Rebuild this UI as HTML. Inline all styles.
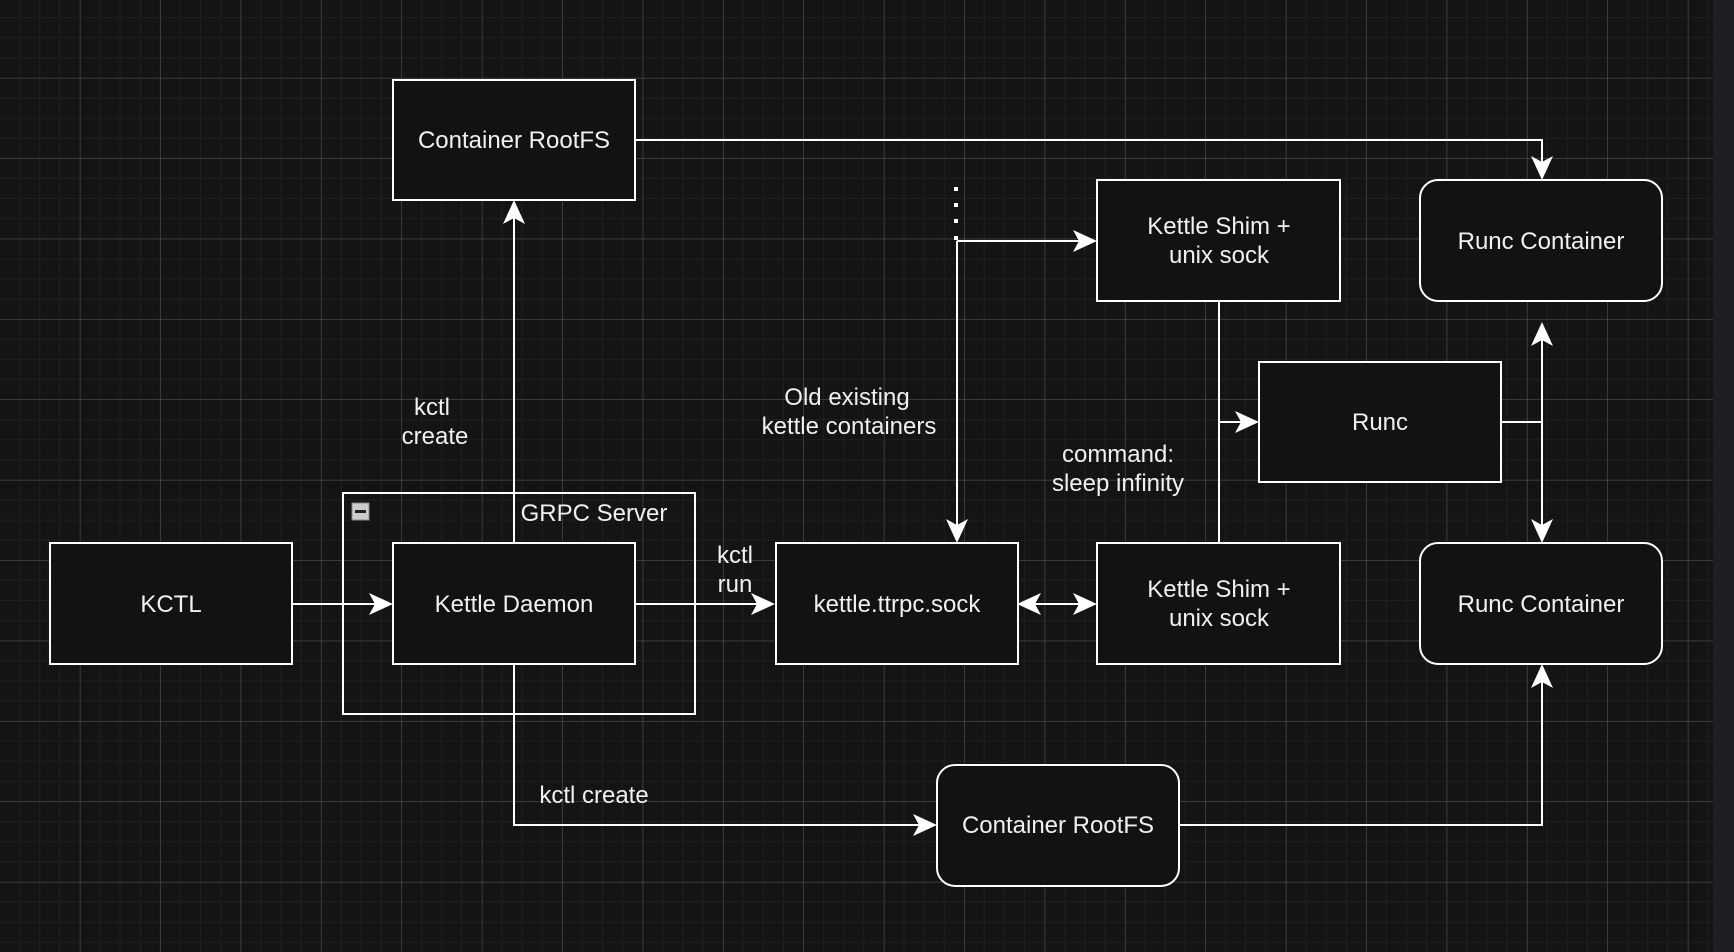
<!DOCTYPE html>
<html><head><meta charset="utf-8"><style>
html,body{margin:0;padding:0;background:#1e1f22;}
svg{display:block;}
text{font-family:"Liberation Sans",sans-serif;font-size:24px;fill:#f0f0f0;}
</style></head><body>
<svg width="1734" height="952" viewBox="0 0 1734 952" xmlns="http://www.w3.org/2000/svg">
<defs>
<pattern id="minor" width="20.1" height="20.1" patternUnits="userSpaceOnUse" x="0" y="-2">
<path d="M20.1 0V20.1M0 20.1H20.1" stroke="#1f1f1f" stroke-width="2" fill="none"/>
</pattern>
<pattern id="major" width="80.4" height="80.4" patternUnits="userSpaceOnUse" x="0" y="-2">
<path d="M80.4 0V80.4M0 80.4H80.4" stroke="#555" stroke-width="1" fill="none"/>
</pattern>
<marker id="ar" viewBox="0 0 24 24" refX="22" refY="12" markerWidth="24" markerHeight="24" markerUnits="userSpaceOnUse" orient="auto-start-reverse">
<path d="M0 1 L24 12 L0 23 L6 12 Z" fill="#fff"/>
</marker>
</defs>
<rect x="0" y="0" width="1713" height="952" fill="#141414"/>
<rect x="0" y="0" width="1713" height="952" fill="url(#minor)"/>
<rect x="0" y="0" width="1713" height="952" fill="url(#major)"/>
<rect x="1713" y="0" width="21" height="952" fill="#1e1f22"/>

<g stroke="#fff" stroke-width="2" fill="none">
<path d="M635 140 H1542 V178" marker-end="url(#ar)"/>
<path d="M514 543 V202" marker-end="url(#ar)"/>
<path d="M292 604 H391" marker-end="url(#ar)"/>
<path d="M635 604 H773" marker-end="url(#ar)"/>
<path d="M1019 604 H1095" marker-start="url(#ar)" marker-end="url(#ar)"/>
<path d="M957 241 V541" marker-end="url(#ar)"/>
<path d="M957 241 H1095" marker-end="url(#ar)"/>
<path d="M1219 301 V543"/>
<path d="M1219 422 H1257" marker-end="url(#ar)"/>
<path d="M1501 422 H1542 V324" marker-end="url(#ar)"/>
<path d="M1542 422 V541" marker-end="url(#ar)"/>
<path d="M514 664 V825 H935" marker-end="url(#ar)"/>
<path d="M1179 825 H1542 V666" marker-end="url(#ar)"/>
</g>
<g fill="#fff">
<rect x="954" y="187" width="4" height="4"/><rect x="954" y="203" width="4" height="4"/>
<rect x="954" y="219" width="4" height="4"/><rect x="954" y="236" width="4" height="4"/>
</g>

<rect x="343" y="493" width="352" height="221" fill="none" stroke="#fff" stroke-width="2"/>
<rect x="352" y="503" width="17" height="17" fill="#ccc" stroke="#888" stroke-width="1"/>
<rect x="355" y="510" width="11" height="3" fill="#222"/>
<text x="594" y="521" text-anchor="middle">GRPC Server</text>

<g stroke="#fff" stroke-width="2" fill="#121212">
<rect x="393" y="80" width="242" height="120"/>
<rect x="50" y="543" width="242" height="121"/>
<rect x="393" y="543" width="242" height="121"/>
<rect x="776" y="543" width="242" height="121"/>
<rect x="1097" y="180" width="243" height="121"/>
<rect x="1097" y="543" width="243" height="121"/>
<rect x="1259" y="362" width="242" height="120"/>
<rect x="1420" y="180" width="242" height="121" rx="18"/>
<rect x="1420" y="543" width="242" height="121" rx="18"/>
<rect x="937" y="765" width="242" height="121" rx="18"/>
</g>

<g text-anchor="middle">
<text x="514" y="148">Container RootFS</text>
<text x="171" y="612">KCTL</text>
<text x="514" y="612">Kettle Daemon</text>
<text x="897" y="612">kettle.ttrpc.sock</text>
<text x="1219" y="234">Kettle Shim +</text>
<text x="1219" y="263">unix sock</text>
<text x="1219" y="597">Kettle Shim +</text>
<text x="1219" y="626">unix sock</text>
<text x="1380" y="430">Runc</text>
<text x="1541" y="249">Runc Container</text>
<text x="1541" y="612">Runc Container</text>
<text x="1058" y="833">Container RootFS</text>
<text x="432" y="415">kctl</text>
<text x="435" y="444">create</text>
<text x="847" y="405">Old existing</text>
<text x="849" y="434">kettle containers</text>
<text x="1118" y="462">command:</text>
<text x="1118" y="491">sleep infinity</text>
<text x="735" y="563">kctl</text>
<text x="735" y="592">run</text>
<text x="594" y="803">kctl create</text>
</g>
</svg>
</body></html>
